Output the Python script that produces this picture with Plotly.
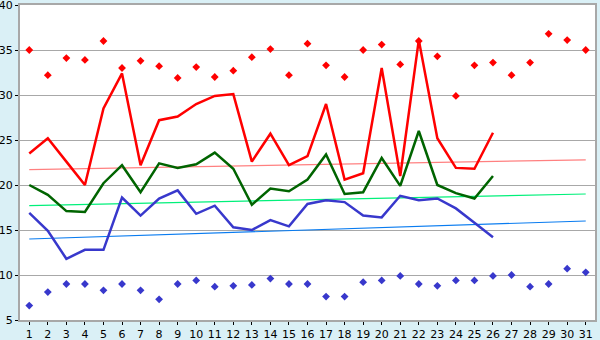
import plotly.graph_objects as go

# Day of month
days = list(range(1, 32))
days_obs = list(range(1, 27))

# Daily averages (observed days only)
avg_max = [23.5, 25.2, 22.6, 20.0, 28.5, 32.4, 22.2, 27.2, 27.6, 29.0,
           29.9, 30.1, 22.6, 25.7, 22.2, 23.2, 29.0, 20.6, 21.3, 33.0,
           21.0, 36.1, 25.2, 21.9, 21.8, 25.8]
avg_mean = [20.0, 18.9, 17.1, 17.0, 20.2, 22.2, 19.2, 22.4, 21.9, 22.3,
            23.6, 21.8, 17.8, 19.6, 19.3, 20.6, 23.4, 19.0, 19.2, 23.0,
            19.9, 26.0, 20.0, 19.1, 18.5, 21.0]
avg_min = [16.9, 14.9, 11.8, 12.8, 12.8, 18.6, 16.6, 18.5, 19.4, 16.8,
           17.7, 15.3, 15.0, 16.1, 15.4, 17.9, 18.3, 18.1, 16.6, 16.4,
           18.8, 18.3, 18.5, 17.4, 15.8, 14.2]

# Record highs and lows for every day
record_max = [35.0, 32.2, 34.1, 33.9, 36.0, 33.0, 33.8, 33.2, 31.9, 33.1,
              32.0, 32.7, 34.2, 35.1, 32.2, 35.7, 33.3, 32.0, 35.0, 35.6,
              33.4, 36.0, 34.3, 29.9, 33.3, 33.6, 32.2, 33.6, 36.8, 36.1,
              35.0]
record_min = [6.6, 8.1, 9.0, 9.0, 8.3, 9.0, 8.3, 7.3, 9.0, 9.4,
              8.7, 8.8, 8.9, 9.6, 9.0, 9.0, 7.6, 7.6, 9.2, 9.4,
              9.9, 9.0, 8.8, 9.4, 9.4, 9.9, 10.0, 8.7, 9.0, 10.7,
              10.3]

# Long-term normals (start and end of month)
trend_days = [1, 31]
normal_max = [21.7, 22.8]
normal_mean = [17.7, 19.0]
normal_min = [14.0, 16.0]

y_ticks = [5, 10, 15, 20, 25, 30, 35, 40]

fig = go.Figure()

# Normal lines
fig.add_trace(go.Scatter(x=trend_days, y=normal_max, mode="lines",
                         line=dict(color="#FF8080", width=1.2), hoverinfo="skip"))
fig.add_trace(go.Scatter(x=trend_days, y=normal_mean, mode="lines",
                         line=dict(color="#00F07A", width=1.2), hoverinfo="skip"))
fig.add_trace(go.Scatter(x=trend_days, y=normal_min, mode="lines",
                         line=dict(color="#0A7CF0", width=1.2), hoverinfo="skip"))

# Daily averages
fig.add_trace(go.Scatter(x=days_obs, y=avg_max, mode="lines",
                         line=dict(color="#FF0000", width=2.5)))
fig.add_trace(go.Scatter(x=days_obs, y=avg_mean, mode="lines",
                         line=dict(color="#006400", width=2.5)))
fig.add_trace(go.Scatter(x=days_obs, y=avg_min, mode="lines",
                         line=dict(color="#3838CC", width=2.5)))

# Records
fig.add_trace(go.Scatter(x=days, y=record_max, mode="markers",
                         marker=dict(symbol="diamond", size=6, color="#FF0000")))
fig.add_trace(go.Scatter(x=days, y=record_min, mode="markers",
                         marker=dict(symbol="diamond", size=6, color="#3838CC")))

fig.update_layout(
    width=600, height=340,
    margin=dict(l=20, r=5, t=5, b=20, autoexpand=False),
    paper_bgcolor="#DAF0F6",
    plot_bgcolor="#FFFFFF",
    showlegend=False,
    font=dict(family="DejaVu Sans", size=11, color="#000000"),
)
fig.update_xaxes(
    range=[0.5, 31.5], tickmode="array", tickvals=days,
    ticktext=[str(d) for d in days], automargin=False,
    ticklabeloverflow="allow",
    showgrid=False, zeroline=False,
    showline=True, linecolor="#A8A8A8", linewidth=2, mirror=True,
    ticks="outside", ticklen=3, tickcolor="#000000", tickwidth=1,
)
fig.update_yaxes(
    range=[5, 40], tickmode="array", tickvals=y_ticks, automargin=False,
    ticklabeloverflow="allow",
    showgrid=True, gridcolor="#A8A8A8", gridwidth=1, zeroline=False,
    showline=True, linecolor="#A8A8A8", linewidth=2, mirror=True,
    ticks="outside", ticklen=3, tickcolor="#000000", tickwidth=1,
)

fig.write_html("out.html")
